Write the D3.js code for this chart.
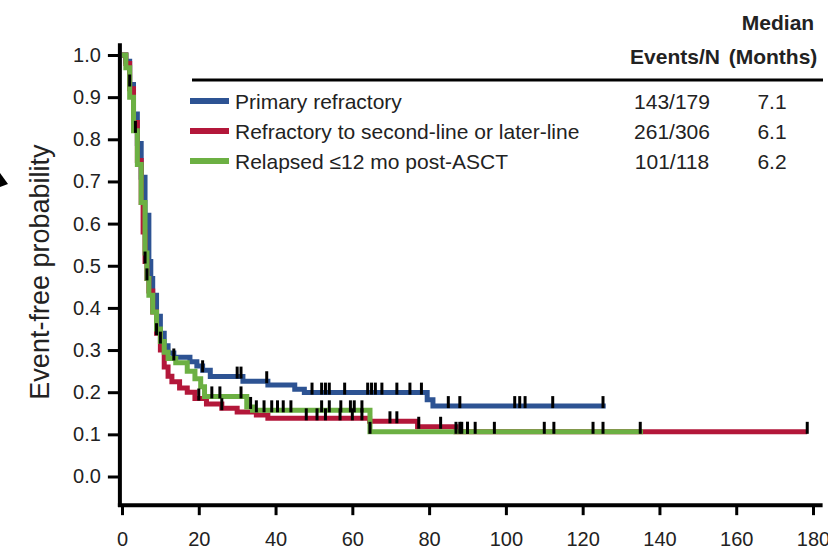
<!DOCTYPE html>
<html>
<head>
<meta charset="utf-8">
<script src="https://cdn.jsdelivr.net/npm/d3@7"></script>
<style>
  body { margin: 0; background: #fff; }
  svg { font-family: "Liberation Sans", Arial, sans-serif; }
</style>
</head>
<body>
<svg id="chart" width="828" height="553"></svg>
<script>
// Kaplan-Meier step points [month, probability]
const primaryRefractory = [
  [0, 1], [1, 0.985], [2, 0.93], [3, 0.86], [4, 0.79], [5, 0.71], [6, 0.62],
  [7, 0.51], [7.5, 0.47], [8, 0.43], [9, 0.38], [10, 0.34], [11, 0.31],
  [12, 0.293], [13.5, 0.283], [17.7, 0.272], [19.5, 0.262], [21, 0.252],
  [23, 0.237], [31.5, 0.226], [38, 0.217], [45, 0.207], [47.5, 0.199],
  [79.5, 0.182], [81, 0.167], [126, 0.167]
];
const refractorySecondLine = [
  [0, 1], [1, 0.98], [2, 0.92], [3, 0.84], [4, 0.75], [5, 0.65], [5.5, 0.58],
  [6, 0.51], [6.5, 0.47], [7, 0.44], [8, 0.39], [9, 0.34], [10, 0.3],
  [11, 0.26], [12, 0.238], [13, 0.225], [15, 0.21], [17, 0.2], [19, 0.185],
  [22, 0.172], [26, 0.162], [30, 0.153], [35, 0.146], [38, 0.138],
  [64.5, 0.131], [77, 0.118], [87, 0.106], [178.5, 0.106]
];
const relapsedPostASCT = [
  [0, 1], [1, 0.97], [2, 0.9], [3, 0.82], [4, 0.74], [5, 0.65], [6, 0.53],
  [6.5, 0.47], [7, 0.43], [8, 0.39], [9, 0.35], [10, 0.32], [11, 0.295],
  [12, 0.28], [14, 0.27], [17, 0.25], [19, 0.232], [20.5, 0.213],
  [21.5, 0.19], [32.5, 0.165], [34, 0.157], [64.6, 0.106], [135.7, 0.106]
];

// censoring times (months)
const primaryCensors = [2, 21, 30, 31, 37.7, 49.5, 52, 53, 54, 58, 64, 65, 66, 67.7, 71.6, 75, 78, 85, 88, 102.3, 103.6, 105, 112.2, 125.3];
const secondLineCensors = [6, 9, 20, 26, 48, 50.8, 53, 56.8, 60, 62.5, 69.8, 71.6, 77.3, 83, 87, 88.5, 90, 178.5];
const relapsedCensors = [3.5, 6.5, 10, 13.5, 23.4, 25.5, 31, 33.5, 35, 37, 39, 40.5, 42, 44, 52, 54, 57, 59.5, 60.5, 62.5, 64.6, 88, 90, 92, 97, 110, 112.5, 122.7, 125.3, 135];

const seriesNames = ["Primary refractory", "Refractory to second-line or later-line", "Relapsed \u226412 mo post-ASCT"];
const eventsN = ["143/179", "261/306", "101/118"];
const medians = ["7.1", "6.1", "6.2"];
const seriesColors = ["#2d5393", "#b3173a", "#6cb043"];

const xTicks = [0, 20, 40, 60, 80, 100, 120, 140, 160, 180];
const yTicks = [0, 0.1, 0.2, 0.3, 0.4, 0.5, 0.6, 0.7, 0.8, 0.9, 1.0];

const svg = d3.select("#chart");

const x = d3.scaleLinear().domain([0, 180]).range([122, 813]);
const y = d3.scaleLinear().domain([0, 1]).range([476.5, 55]);

// axes
const axisX = x(-0.55), axisY = y(-0.068);

const yAxis = svg.append("g")
    .attr("transform", `translate(${axisX},0)`)
    .call(d3.axisLeft(y).tickValues(yTicks).tickFormat(d3.format(".1f")).tickSize(12).tickPadding(7));
yAxis.select(".domain").remove();
yAxis.selectAll(".tick line").attr("stroke", "#000").attr("stroke-width", 3);
yAxis.selectAll(".tick text").attr("font-size", 20).attr("fill", "#222")
    .attr("font-family", "Liberation Sans, Arial, sans-serif");

const xAxis = svg.append("g")
    .attr("transform", `translate(0,${axisY})`)
    .call(d3.axisBottom(x).tickValues(xTicks).tickSize(10).tickPadding(17));
xAxis.select(".domain").remove();
xAxis.selectAll(".tick line").attr("stroke", "#000").attr("stroke-width", 3);
xAxis.selectAll(".tick text").attr("font-size", 20).attr("fill", "#222")
    .attr("font-family", "Liberation Sans, Arial, sans-serif");

svg.append("line")
    .attr("x1", axisX).attr("x2", axisX)
    .attr("y1", y(1.028)).attr("y2", axisY + 1.5)
    .attr("stroke", "#000").attr("stroke-width", 4);
svg.append("line")
    .attr("x1", axisX - 2).attr("x2", x(182.5))
    .attr("y1", axisY).attr("y2", axisY)
    .attr("stroke", "#000").attr("stroke-width", 4);

svg.append("text")
    .attr("transform", `translate(40,${y(0.485)}) rotate(-90)`)
    .attr("text-anchor", "middle")
    .attr("dy", "0.35em")
    .attr("font-size", 27)
    .attr("fill", "#222")
    .text("Event-free probability");

// small cropped arrow at the left edge
svg.append("path").attr("d", "M0,173 L8,184 L0,187 Z").attr("fill", "#000");

// curves
const line = d3.line()
    .x(d => x(d[0]))
    .y(d => y(d[1]))
    .curve(d3.curveStepAfter);

const curves = [primaryRefractory, refractorySecondLine, relapsedPostASCT];
const censors = [primaryCensors, secondLineCensors, relapsedCensors];

function survAt(pts, t){
    let s = pts[0][1];
    pts.forEach(p => { if (p[0] <= t) s = p[1]; });
    return s;
}

const layer = svg.append("g");
curves.forEach((pts, i) => {
    layer.append("path")
        .datum(pts)
        .attr("d", line)
        .attr("fill", "none")
        .attr("stroke", seriesColors[i])
        .attr("stroke-width", 5);
});

curves.forEach((pts, i) => {
    layer.selectAll(".cens" + i)
        .data(censors[i])
        .join("line")
        .attr("class", "cens" + i)
        .attr("x1", d => x(d)).attr("x2", d => x(d))
        .attr("y1", d => y(survAt(pts, d)) - 10)
        .attr("y2", d => y(survAt(pts, d)) + 2)
        .attr("stroke", "#000")
        .attr("stroke-width", 3);
});

// legend / table
const legend = svg.append("g");
legend.append("line")
    .attr("x1", 192).attr("x2", 823).attr("y1", 80).attr("y2", 80)
    .attr("stroke", "#000").attr("stroke-width", 3);

legend.append("text").attr("x", 778).attr("y", 23).attr("dy", "0.35em")
    .attr("text-anchor", "middle").attr("font-size", 21).attr("font-weight", "bold")
    .attr("fill", "#222").text("Median");
legend.append("text").attr("x", 675).attr("y", 57).attr("dy", "0.35em")
    .attr("text-anchor", "middle").attr("font-size", 21).attr("font-weight", "bold")
    .attr("fill", "#222").text("Events/N");
legend.append("text").attr("x", 773).attr("y", 57).attr("dy", "0.35em")
    .attr("text-anchor", "middle").attr("font-size", 21).attr("font-weight", "bold")
    .attr("fill", "#222").text("(Months)");

const rowY = d3.scalePoint().domain(seriesNames).range([102, 162]);

const rows = legend.selectAll(".row")
    .data(seriesNames)
    .join("g")
    .attr("class", "row")
    .attr("transform", d => `translate(0,${rowY(d)})`);

rows.append("line")
    .attr("x1", 190).attr("x2", 229).attr("y1", -1).attr("y2", -1)
    .attr("stroke", (d, i) => seriesColors[i]).attr("stroke-width", 6);
rows.append("text")
    .attr("x", 235).attr("dy", "0.35em").attr("font-size", 21).attr("fill", "#222")
    .text(d => d);
rows.append("text")
    .attr("x", 672).attr("dy", "0.35em").attr("text-anchor", "middle")
    .attr("font-size", 21).attr("fill", "#222")
    .text((d, i) => eventsN[i]);
rows.append("text")
    .attr("x", 772).attr("dy", "0.35em").attr("text-anchor", "middle")
    .attr("font-size", 21).attr("fill", "#222")
    .text((d, i) => medians[i]);
</script>
</body>
</html>
